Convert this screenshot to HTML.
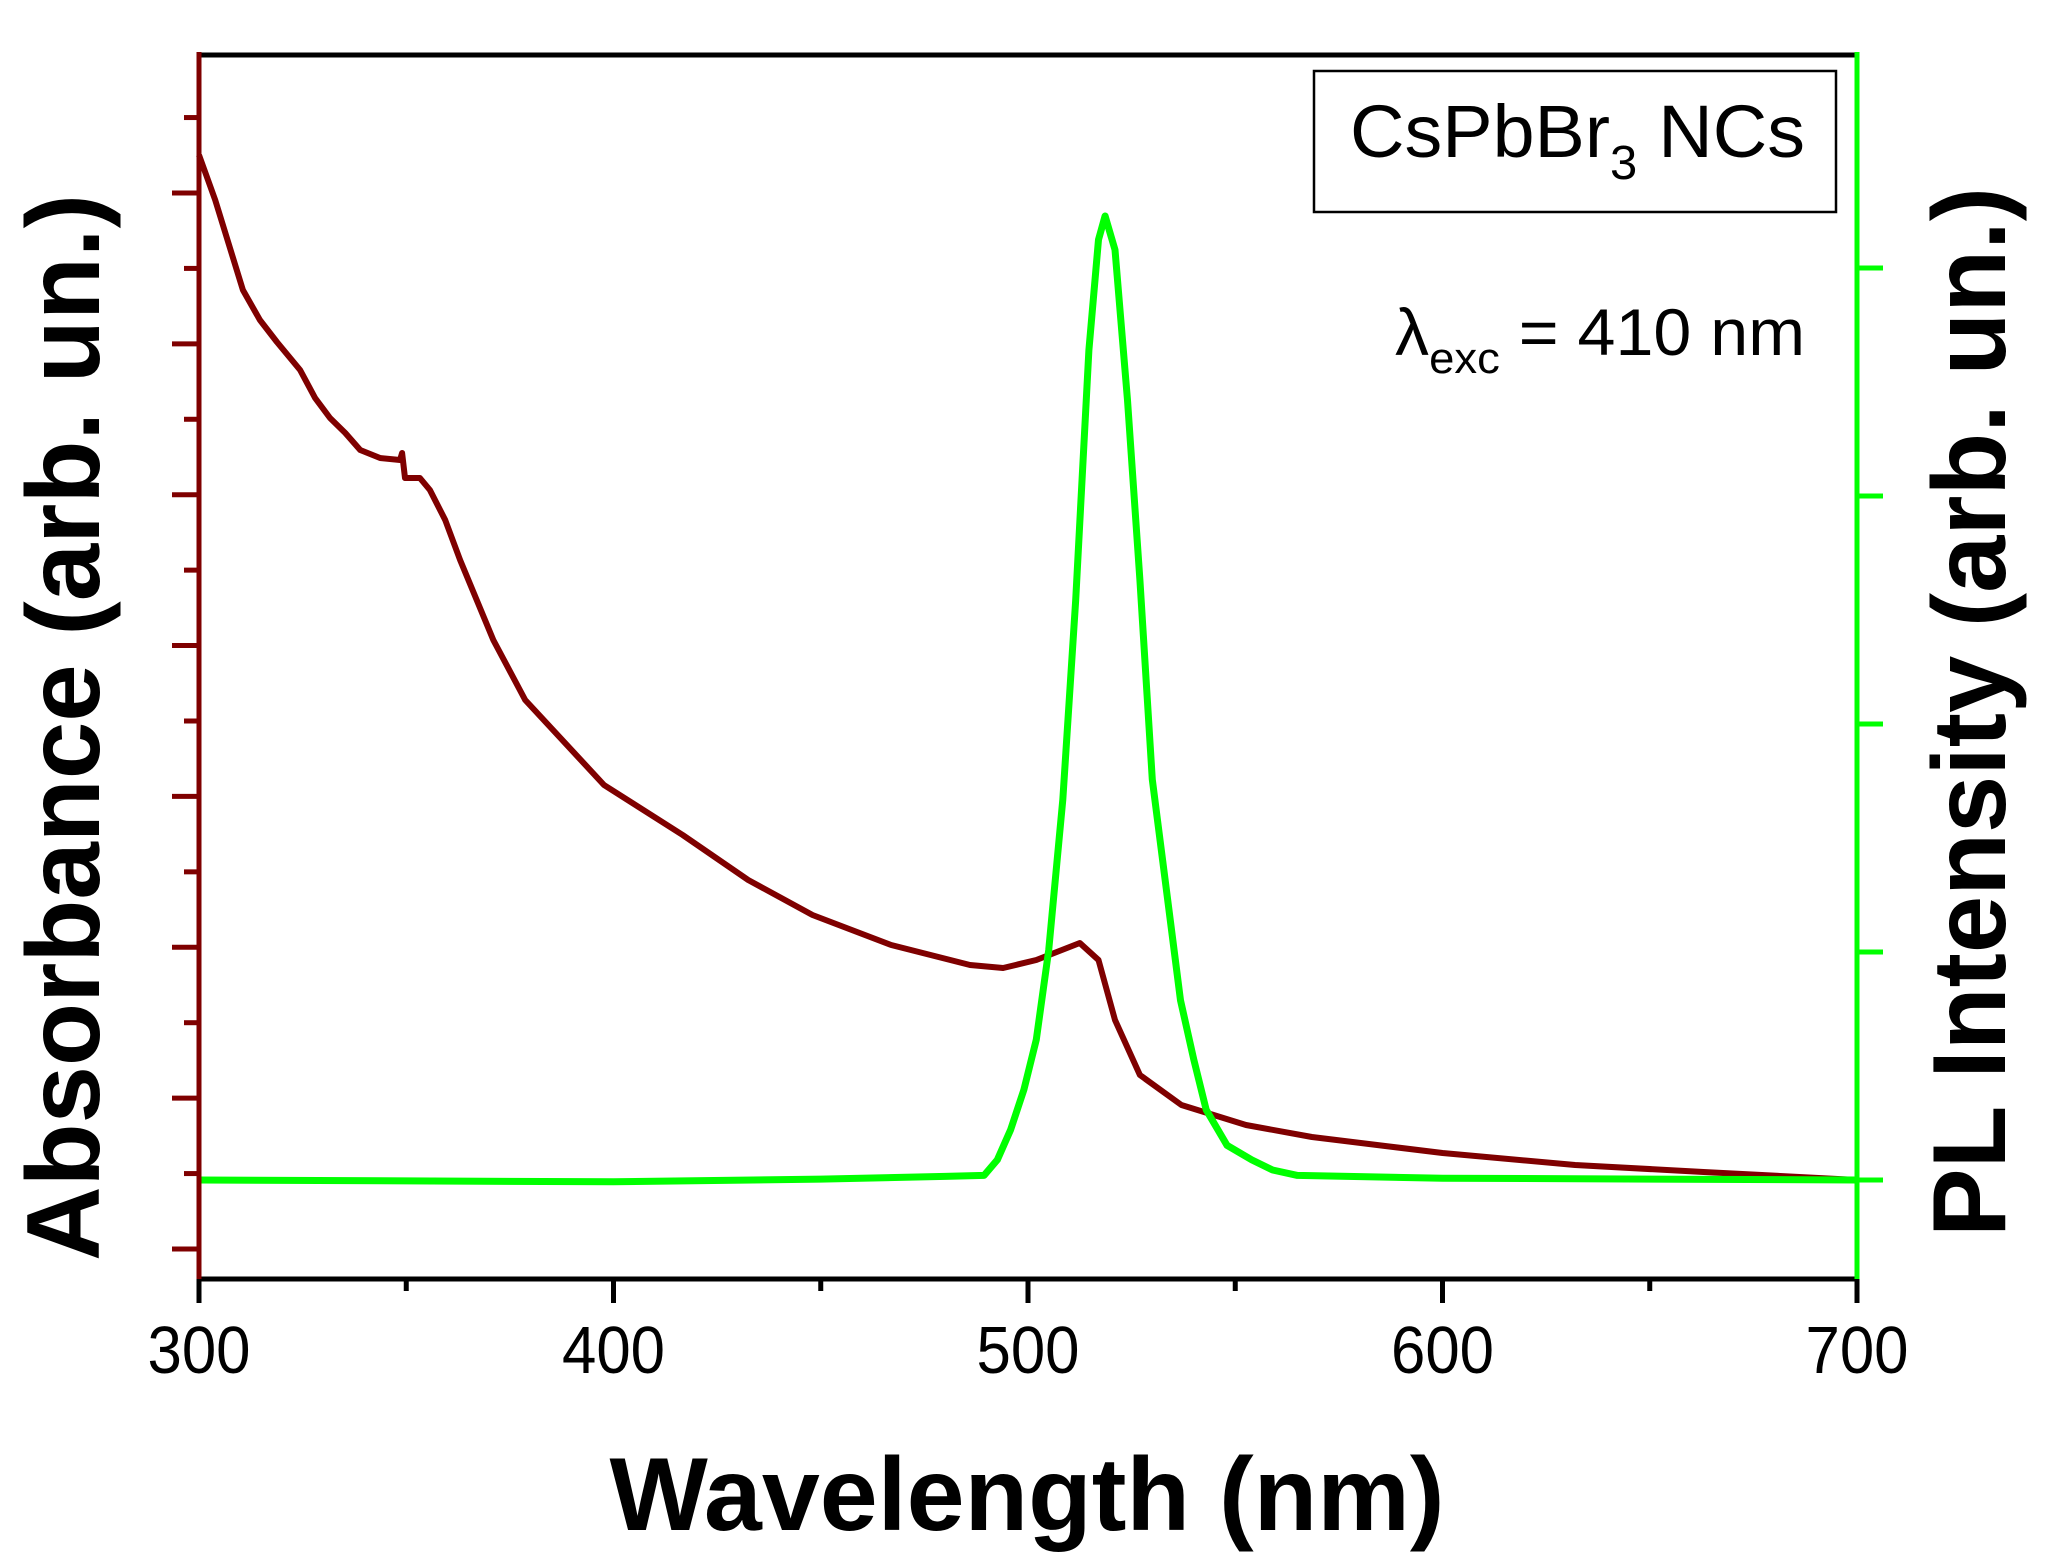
<!DOCTYPE html>
<html><head><meta charset="utf-8"><style>
html,body{margin:0;padding:0;background:#fff;}
svg{display:block;font-family:"Liberation Sans",Arial,sans-serif;}
</style></head><body>
<svg id="chart" width="2055" height="1567" viewBox="0 0 2055 1567" xmlns="http://www.w3.org/2000/svg">
<g id="marks"></g>
<g id="axes"></g>
<rect x="1314" y="71" width="522" height="141" fill="#fff" stroke="#000" stroke-width="2.5"/>
<text x="1350" y="157" font-size="74" textLength="455" lengthAdjust="spacingAndGlyphs">CsPbBr<tspan font-size="48" dy="22">3</tspan><tspan dy="-22"> NCs</tspan></text>
<text x="1395" y="355" font-size="66" textLength="410" lengthAdjust="spacingAndGlyphs">λ<tspan font-size="44" dy="18">exc</tspan><tspan dy="-18"> = 410 nm</tspan></text>
<text x="1027" y="1530" font-size="104" font-weight="bold" text-anchor="middle" textLength="835" lengthAdjust="spacingAndGlyphs">Wavelength (nm)</text>
<text transform="translate(99,1261) rotate(-90)" font-size="104" font-weight="bold" textLength="1067" lengthAdjust="spacingAndGlyphs">Absorbance (arb. un.)</text>
<text transform="translate(2005,1237) rotate(-90)" font-size="104" font-weight="bold" textLength="1050" lengthAdjust="spacingAndGlyphs">PL Intensity (arb. un.)</text>
</svg>
<script>
const absWl = [300,303.9,310.6,314.7,318.8,324.4,328,331.6,335.3,338.9,343.7,348.5,349,349.7,353.3,355.7,359.4,363,371,378.7,397.7,416.7,432.5,448,467,486,494,502,512.5,517,521,527,537,552.6,568.5,600,632,663,700];
const absVal = [1.124,1.079,0.989,0.959,0.937,0.909,0.881,0.861,0.846,0.829,0.821,0.819,0.826,0.801,0.801,0.789,0.759,0.719,0.639,0.579,0.494,0.444,0.399,0.364,0.334,0.314,0.311,0.319,0.336,0.319,0.259,0.204,0.174,0.154,0.142,0.126,0.114,0.107,0.099];
const plWl = [300,400,450,480,489.4,492.6,495.8,499,502,505,508.4,511.5,514.7,517,518.6,521,524,527,530,533.7,536.8,540,543,548,554,559,565,600,700];
const plVal = [0,-0.002,0.001,0.004,0.005,0.022,0.055,0.099,0.154,0.252,0.417,0.636,0.910,1.031,1.057,1.020,0.855,0.658,0.439,0.307,0.197,0.132,0.077,0.038,0.022,0.011,0.005,0.002,0];
const xTicks = [300,400,500,600,700];
const xTickLabels = ["300","400","500","600","700"];

const X0=199,X1=1857,Y0=1279,YT=55;
const xs = w => X0+(w-300)/400*(X1-X0);
const ya = a => Y0-a*1000;
const yp = v => 1180-v*912;
const NS="http://www.w3.org/2000/svg";
const marksG=document.getElementById('marks'), axesG=document.getElementById('axes');
function mk(tag,attrs,parent){const e=document.createElementNS(NS,tag);for(const k in attrs)e.setAttribute(k,attrs[k]);parent.appendChild(e);return e;}

let dStr=absWl.map((w,i)=>(i?'L':'M')+xs(w).toFixed(1)+' '+ya(absVal[i]).toFixed(1)).join(' ');
const pa=mk('path',{d:dStr,fill:'none',stroke:'#7f0000','stroke-width':6,'stroke-linejoin':'round'},marksG);


dStr=plWl.map((w,i)=>(i?'L':'M')+xs(w).toFixed(1)+' '+yp(plVal[i]).toFixed(1)).join(' ');
const pp=mk('path',{d:dStr,fill:'none',stroke:'#00ff00','stroke-width':7,'stroke-linejoin':'round'},marksG);



const topAxis=mk('line',{x1:X0,y1:YT,x2:X1,y2:YT,stroke:'#000','stroke-width':5},axesG);


const botAxis=mk('line',{x1:X0,y1:Y0,x2:X1,y2:Y0,stroke:'#000','stroke-width':5},axesG);


for(let w=300;w<=700;w+=50){
  const maj=(w%100===0);
  const t=mk('line',{x1:xs(w),y1:Y0,x2:xs(w),y2:maj?1303:1291,stroke:'#000','stroke-width':5},axesG);
  
  
}
xTicks.forEach((w,i)=>{
  const t=mk('text',{x:xs(w),y:1373,'font-size':67,'text-anchor':'middle',textLength:103,lengthAdjust:'spacingAndGlyphs'},axesG);
  t.textContent=xTickLabels[i];
  
  
});
const leftAxis=mk('line',{x1:X0,y1:YT-3,x2:X0,y2:Y0,stroke:'#7f0000','stroke-width':5},axesG);


for(let i=0;i<16;i++){
  const y=1249-i*75.43, maj=(i%2===0);
  const t=mk('line',{x1:maj?172:184,y1:y,x2:X0,y2:y,stroke:'#7f0000','stroke-width':5},axesG);
  
  
}
const rightAxis=mk('line',{x1:X1,y1:YT-3,x2:X1,y2:Y0,stroke:'#00ff00','stroke-width':5},axesG);


for(let i=0;i<5;i++){
  const y=1180-i*228;
  const t=mk('line',{x1:X1,y1:y,x2:1883,y2:y,stroke:'#00ff00','stroke-width':5},axesG);
  
  
}
</script>
</body></html>
